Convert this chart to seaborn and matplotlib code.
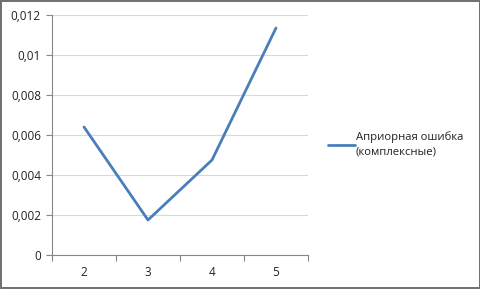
import matplotlib
matplotlib.use("Agg")
import matplotlib.pyplot as plt
import seaborn as sns
import pandas as pd
from matplotlib.patches import Rectangle
from matplotlib.ticker import FixedLocator

categories = ["2", "3", "4", "5"]
values = [0.0064, 0.00175, 0.00475, 0.01135]
series_name = "Априорная ошибка\n(комплексные)"
yticks = [0, 0.002, 0.004, 0.006, 0.008, 0.01, 0.012]
ytick_labels = ["0", "0,002", "0,004", "0,006", "0,008", "0,01", "0,012"]

sns.set_style("white")
plt.rcParams['font.family'] = ['Open Sans', 'DejaVu Sans']

df = pd.DataFrame({"x": categories, "y": values, "s": series_name})

fig = plt.figure(figsize=(4.81, 2.89), dpi=100)
ax = fig.add_axes([52/481, 34/289, 256/481, 240/289])
sns.lineplot(data=df, x="x", y="y", hue="s", palette=["#4a7ebb"], linewidth=2.0, ax=ax, sort=False)

ax.set_xlim(-0.5, 3.5)
ax.set_ylim(0, 0.012)
ax.set_yticks(yticks)
ax.set_yticklabels(ytick_labels, fontsize=8.5, color="#222222")
ax.set_xticks(range(len(categories)))
ax.set_xticklabels(categories, fontsize=8.5, color="#222222")
ax.xaxis.set_minor_locator(FixedLocator([-0.5, 0.5, 1.5, 2.5, 3.5]))
ax.tick_params(axis="x", which="major", length=0, pad=8)
ax.tick_params(axis="x", which="minor", length=4, color="#868686", width=0.8, direction="out", bottom=True)
ax.tick_params(axis="y", length=4, color="#868686", width=0.8, direction="out", left=True, pad=4)
ax.set_xlabel("")
ax.set_ylabel("")
ax.grid(axis="y", color="#d9d9d9", linewidth=0.8)
ax.grid(axis="x", visible=False)
for side in ["top", "right"]:
    ax.spines[side].set_visible(False)
for side in ["left", "bottom"]:
    ax.spines[side].set_color("#868686")
    ax.spines[side].set_linewidth(0.8)

leg = ax.legend(loc="center left", bbox_to_anchor=(1.04, 0.46), frameon=False, fontsize=8.1,
                handlelength=2.4, handletextpad=0.05)
for t in leg.get_texts():
    t.set_color("#222222")
    t.set_linespacing(1.5)

fig.patches.append(Rectangle((0.002, 0.003), 0.996, 0.994, transform=fig.transFigure,
                             fill=False, edgecolor="#6f6f6f", linewidth=1.4))
fig.savefig("out.png", dpi=100)
